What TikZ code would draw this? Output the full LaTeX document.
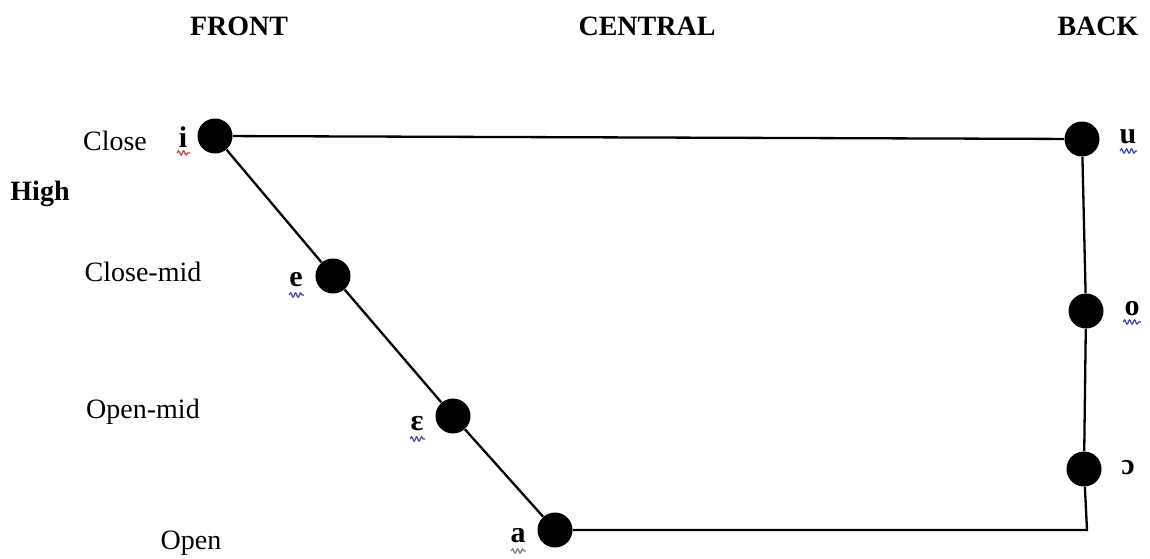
\documentclass[tikz,border=0pt]{standalone}
\usepackage{fontspec}
\setmainfont{Liberation Serif}
\usetikzlibrary{decorations.pathmorphing}
\definecolor{squigred}{RGB}{200,60,70}
\definecolor{squigblue}{RGB}{60,70,170}
\newlength{\pxu}
\setlength{\pxu}{0.5pt}
\tikzset{
  vowel/.style={circle,fill=black,inner sep=0pt,minimum size=35\pxu},
  side/.style={font=\fontsize{14}{16}\selectfont},
  head/.style={font=\fontsize{14}{16}\selectfont\bfseries},
  sym/.style={font=\fontsize{15}{17}\selectfont\bfseries},
  edge/.style={line width=1.15pt,draw=black},
  squig/.style={draw=#1,line width=0.6pt,decorate,
    decoration={snake,amplitude=2.2\pxu,segment length=5\pxu}},
  squig/.default=squigblue,
}
\begin{document}
\begin{tikzpicture}[x=0.5pt,y=-0.5pt]
  \useasboundingbox (0,0) rectangle (1150,558);
  % column heads
  \node[head] (front) at (239,26) {FRONT};
  \node[head] (central) at (647,26) {CENTRAL};
  \node[head] (back) at (1098,26) {BACK};
  % row labels
  \node[head] (high) at (40,194) {High};
  \node[side] (close) at (115,141) {Close};
  \node[side] (closemid) at (143,272) {Close-mid};
  \node[side] (openmid) at (143,412) {Open-mid};
  \node[side] (open) at (191,543) {Open};
  % vowel points
  \node[vowel] (i) at (215,136) {};
  \node[vowel] (e) at (333,276) {};
  \node[vowel] (eps) at (453,416) {};
  \node[vowel] (a) at (555,530) {};
  \node[vowel] (u) at (1082,139) {};
  \node[vowel] (o) at (1086,311) {};
  \node[vowel] (oo) at (1084,469) {};
  \coordinate (corner) at (1087,530);
  % chart lines
  \draw[edge] (i) -- (u);
  \draw[edge] (i) -- (e) -- (eps) -- (a);
  \draw[edge] (a) -- (corner) -- (oo) -- (o) -- (u);
  % vowel symbols
  \node[sym] (li) at (183,137) {i};
  \node[sym] (le) at (296,280) {e};
  \node[sym] (leps) at (417,424) {ɛ};
  \node[sym] (la) at (518,536) {a};
  \node[sym] (lu) at (1128,137) {u};
  \node[sym] (lo) at (1132,309) {o};
  \node[sym] (loo) at (1128,468) {ɔ};
  % spelling squiggles
  \draw[squig=squigred] (177,153) -- (190,153);
  \draw[squig] (289,295) -- (304,295);
  \draw[squig] (410,439) -- (425,439);
  \draw[squig=gray] (511,551) -- (526,551);
  \draw[squig] (1120,151) -- (1137,151);
  \draw[squig] (1123,322) -- (1141,322);
\end{tikzpicture}
\end{document}
